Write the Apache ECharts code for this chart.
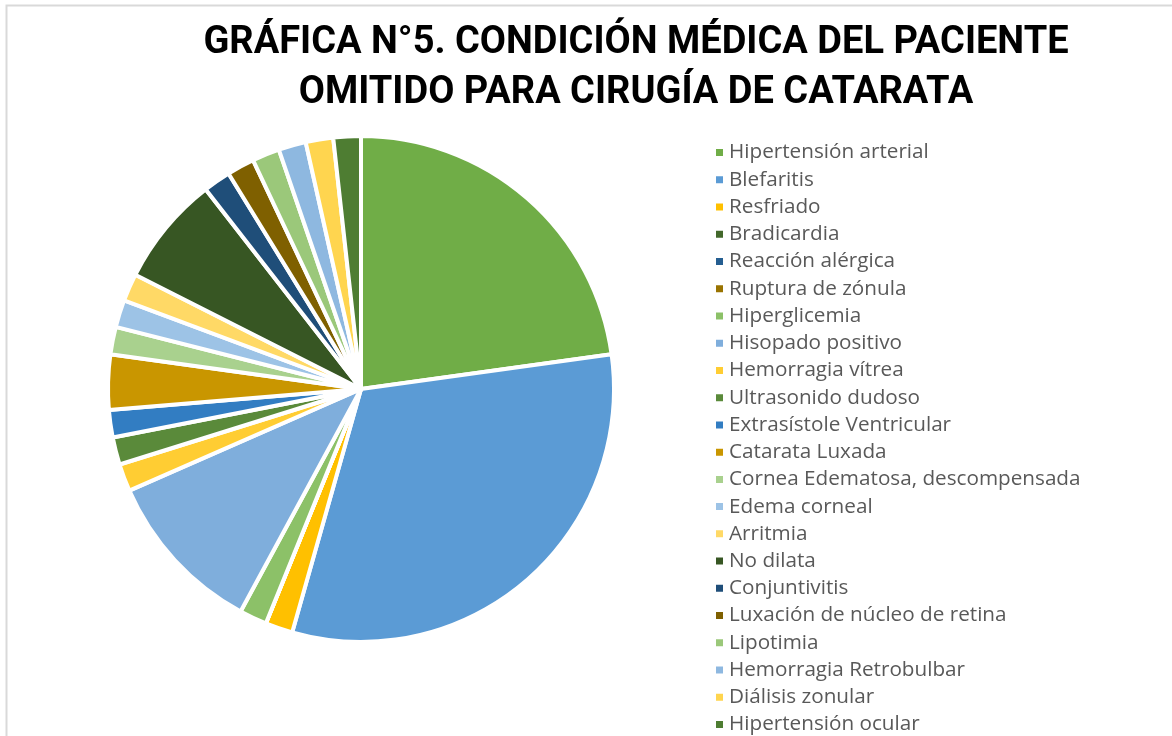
<!DOCTYPE html>
<html>
<head>
<meta charset="utf-8">
<script src="https://cdn.jsdelivr.net/npm/echarts@6/dist/echarts.min.js"></script>
<style>
  html, body { margin: 0; padding: 0; background: #fff; }
  #chart { width: 1172px; height: 736px; }
</style>
</head>
<body>
<div id="chart"></div>
<script>
// Condición médica (número de pacientes omitidos)
var categories = [
  'Hipertensión arterial', 'Blefaritis', 'Resfriado', 'Bradicardia',
  'Reacción alérgica', 'Ruptura de zónula', 'Hiperglicemia', 'Hisopado positivo',
  'Hemorragia vítrea', 'Ultrasonido dudoso', 'Extrasístole Ventricular', 'Catarata Luxada',
  'Cornea Edematosa, descompensada', 'Edema corneal', 'Arritmia', 'No dilata',
  'Conjuntivitis', 'Luxación de núcleo de retina', 'Lipotimia', 'Hemorragia Retrobulbar',
  'Diálisis zonular', 'Hipertensión ocular'
];
var pacientes = [13, 18, 1, 0, 0, 0, 1, 6, 1, 1, 1, 2, 1, 1, 1, 4, 1, 1, 1, 1, 1, 1];
var colores = [
  '#70AD47', '#5B9BD5', '#FFC000', '#43682B',
  '#255E91', '#997300', '#8CC168', '#7FAEDC',
  '#FFCD33', '#5A8A3A', '#327DC2', '#C99600',
  '#A9D18E', '#9DC3E6', '#FFD966', '#375623',
  '#1F4E79', '#7F6000', '#9BC87A', '#8EB8E0',
  '#FFD54F', '#4E7D32'
];
var titulo = 'GRÁFICA N°5. CONDICIÓN MÉDICA DEL PACIENTE\nOMITIDO PARA CIRUGÍA DE CATARATA';

var datos = categories.map(function(c, i) {
  return { name: c, value: pacientes[i], itemStyle: { color: colores[i] } };
});

var chart = echarts.init(document.getElementById('chart'));
chart.setOption({
  animation: false,
  backgroundColor: '#fff',
  graphic: [
    {
      type: 'rect',
      shape: { x: 6.5, y: 5.5, width: 1300, height: 900 },
      style: { fill: 'none', stroke: '#D9D9D9', lineWidth: 2 },
      silent: true
    },
    {
      type: 'text',
      x: 636, y: 18,
      style: {
        text: titulo,
        fill: '#000',
        font: 'bold 38px Roboto, sans-serif',
        textAlign: 'center',
        lineHeight: 50
      }
    }
  ],
  legend: {
    orient: 'vertical',
    left: 709,
    top: 137,
    height: 800,
    icon: 'rect',
    itemWidth: 9,
    itemHeight: 9,
    itemGap: 6.24,
    textStyle: {
      color: '#595959',
      fontSize: 20.7,
      fontFamily: '"Open Sans", sans-serif',
      lineHeight: 20
    },
    data: categories
  },
  series: [{
    type: 'pie',
    center: [361, 389],
    radius: 253,
    startAngle: 90,
    clockwise: true,
    label: { show: false },
    labelLine: { show: false },
    itemStyle: { borderColor: '#fff', borderWidth: 4 },
    emphasis: { disabled: true },
    data: datos
  }]
});
</script>
</body>
</html>
